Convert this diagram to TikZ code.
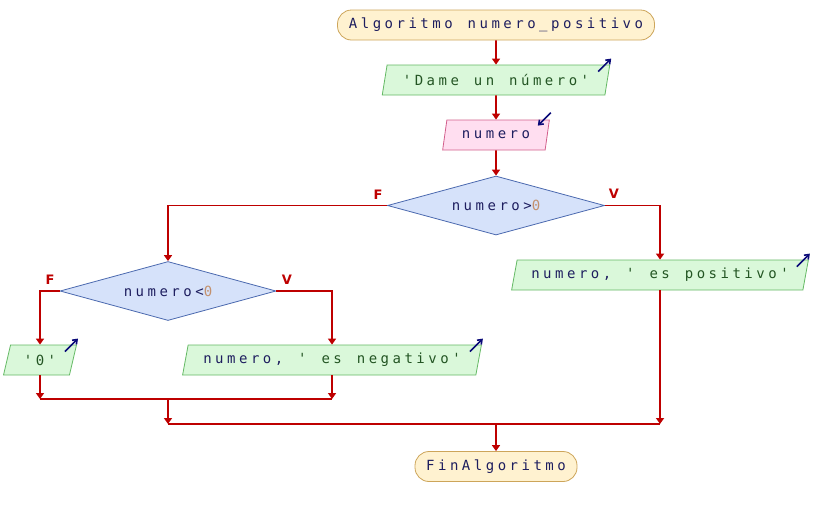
\documentclass[tikz,border=0pt]{standalone}
\usepackage{fontspec}
\setmonofont{DejaVu Sans Mono}[LetterSpace=25, WordSpace={1.25,0,0}]
\newfontfamily\lblf{DejaVu Sans}
\usetikzlibrary{shapes.geometric,arrows.meta,calc}
\definecolor{flowc}{RGB}{190,0,0}
\definecolor{txtc}{RGB}{30,30,95}
\definecolor{strc}{RGB}{35,85,35}
\definecolor{numc}{RGB}{195,145,110}
\definecolor{iconc}{RGB}{10,10,120}
\definecolor{termF}{RGB}{255,242,208}
\definecolor{termB}{RGB}{205,165,90}
\definecolor{outF}{RGB}{218,248,218}
\definecolor{outB}{RGB}{100,185,100}
\definecolor{inF}{RGB}{255,222,240}
\definecolor{inB}{RGB}{210,95,140}
\definecolor{decF}{RGB}{214,226,250}
\definecolor{decB}{RGB}{75,105,175}
\newcommand{\sv}[1]{\textcolor{strc}{#1}}
\newcommand{\nv}[1]{\textcolor{numc}{#1}}
\begin{document}
\begin{tikzpicture}[x=1pt,y=-1pt,
  base/.style={inner sep=0pt, line width=0.8pt, text=txtc, font=\ttfamily\fontsize{14}{16}\selectfont},
  term/.style={base, rectangle, draw=termB, fill=termF, rounded corners=14pt, minimum height=30pt},
  para/.style={base, trapezium, trapezium left angle=70, trapezium right angle=110, trapezium stretches=true, minimum height=30pt},
  outp/.style={para, draw=outB, fill=outF},
  inp/.style={para, draw=inB, fill=inF},
  dec/.style={base, diamond, aspect=3.66, draw=decB, fill=decF, minimum width=216pt, minimum height=59pt},
  flow/.style={draw=flowc, line width=1.8pt, -{Triangle[width=8pt,length=6pt]}},
  plain/.style={draw=flowc, line width=1.8pt},
  icon/.style={draw=iconc, line width=1.6pt, -{Straight Barb[width=6pt,length=4pt]}},
  lbl/.style={text=flowc, font=\lblf\bfseries\fontsize{13}{15}\selectfont, inner sep=0pt}
]
\useasboundingbox (0,0) rectangle (814,515);

\node[term, minimum width=317pt] (start) at (496,25) {Algoritmo numero\_positivo};
\node[outp, minimum width=228pt] (dame) at (496,80) {\sv{'Dame un número'}};
\node[inp, minimum width=107pt] (num) at (496,135) {numero};
\node[dec, minimum width=217pt] (d1) at (496,205.5) {numero>\nv{0}};
\node[dec] (d2) at (168,291) {numero<\nv{0}};
\node[outp, minimum width=73pt] (cero) at (40,360) {\sv{'0'}};
\node[outp, minimum width=299pt] (neg) at (332,360) {numero, \sv{' es negativo'}};
\node[outp, minimum width=297pt] (pos) at (660,275) {numero, \sv{' es positivo'}};
\node[term, minimum width=162pt] (fin) at (496,466.5) {FinAlgoritmo};

\node[lbl] (f1) at (378,195) {F};
\node[lbl] (v1) at (614,194) {V};
\node[lbl] (f2) at (50,280) {F};
\node[lbl] (v2) at (287,280) {V};

% icons
\draw[icon] ($(dame.top right corner)+(-12,7)$) -- ($(dame.top right corner)+(1,-6)$);
\draw[icon] ($(cero.top right corner)+(-12,7)$) -- ($(cero.top right corner)+(1,-6)$);
\draw[icon] ($(neg.top right corner)+(-12,7)$) -- ($(neg.top right corner)+(1,-6)$);
\draw[icon] ($(pos.top right corner)+(-12,7)$) -- ($(pos.top right corner)+(1,-6)$);
\draw[icon] ($(num.top right corner)+(1,-7)$) -- ($(num.top right corner)+(-12,6)$);

% flow
\coordinate (m1) at (168,399);
\coordinate (m2) at (496,424);
\draw[flow] (start.south) -- (dame.north);
\draw[flow] (dame.south) -- (num.north);
\draw[flow] (num.south) -- (d1.north);
\draw[flow] (d1.west) -| (d2.north);
\draw[flow] (d1.east) -| (pos.north);
\draw[flow] (d2.west) -| (cero.north);
\draw[flow] (d2.east) -| (neg.north);
\draw[flow] (cero.south) -- (cero.south |- m1);
\draw[flow] (neg.south) -- (neg.south |- m1);
\draw[plain] (cero.south |- m1) -- (neg.south |- m1);
\draw[flow] (m1) -- (m1 |- m2);
\draw[flow] (pos.south) -- (pos.south |- m2);
\draw[plain] (m1 |- m2) -- (pos.south |- m2);
\draw[flow] (m2) -- (fin.north);
\end{tikzpicture}
\end{document}
